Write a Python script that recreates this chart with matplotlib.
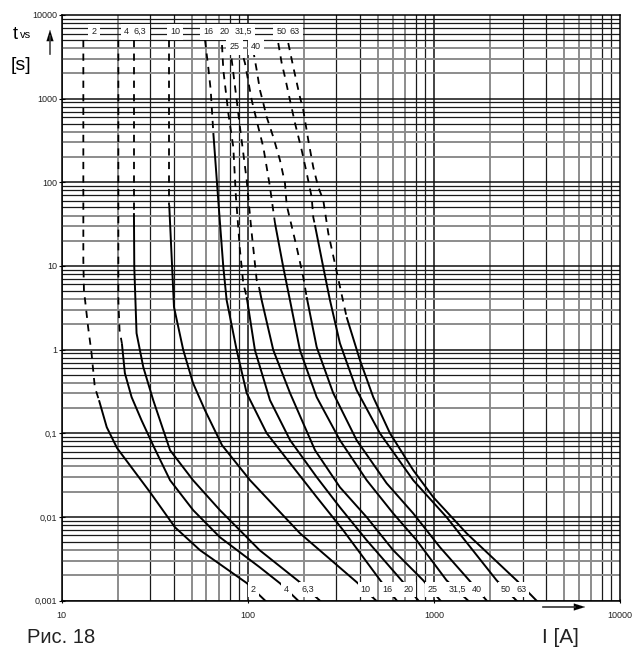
import numpy as np
import matplotlib.pyplot as plt

# шрифт похожий на Helvetica
plt.rcParams['font.family'] = ['Liberation Sans', 'DejaVu Sans']

# номинальные токи плавких вставок
ratings = ['2', '4', '6,3', '10', '16', '20', '25', '31,5', '40', '50', '63']

# точки характеристик: ток I [A] и время t [s]
i_2 = [13.1, 13.1, 13.2, 13.9, 14.5, 15.1, 15.9, 17.5, 19.9, 29.9, 40.7, 55.5, 99.1, 127]
t_2 = [5023, 11.7, 5.13, 1.85, 0.906, 0.355, 0.248, 0.118, 0.0662, 0.0197, 0.0075, 0.00399, 0.00161, 0.00095]

i_4 = [20.2, 20.2, 20.5, 21.1, 21.9, 23.8, 26.9, 31.4, 38.3, 51.0, 71.0, 116, 149, 191]
t_4 = [5023, 3.9, 1.71, 1.19, 0.522, 0.27, 0.143, 0.068, 0.0274, 0.012, 0.0057, 0.0025, 0.00161, 0.00095]

i_6_3 = [24.5, 24.5, 24.6, 25.3, 27.5, 31.1, 38.3, 50.9, 71.0, 116, 191, 250]
t_6_3 = [5023, 42.8, 9.67, 1.57, 0.616, 0.248, 0.0626, 0.0274, 0.012, 0.00399, 0.00165, 0.00095]

i_10 = [37.9, 37.9, 40.2, 45.1, 50.9, 59.0, 72.8, 103, 191, 386, 501]
t_10 = [5023, 53.4, 3.22, 0.984, 0.396, 0.188, 0.0719, 0.0274, 0.00636, 0.00165, 0.00095]

i_16 = [59.0, 61.4, 63.3, 65.4, 69.5, 74.0, 77.1, 87.3, 98.8, 126.5, 169, 235, 326, 525, 644]
t_16 = [5023, 2388, 1267, 388, 61.3, 9.67, 3.9, 0.984, 0.301, 0.1, 0.0438, 0.0172, 0.00691, 0.00165, 0.00095]

i_20 = [72.8, 74.0, 78.7, 83.7, 86.5, 90.9, 94.7, 98.8, 109.4, 131.8, 169, 235, 313, 436, 685, 842]
t_20 = [4376, 2198, 673, 264, 66.5, 15.5, 6.23, 4.24, 0.984, 0.248, 0.0825, 0.0298, 0.013, 0.00525, 0.00165, 0.00095]

i_25 = [81.3, 82.1, 87.3, 90.9, 94.7, 98.8, 100.7, 105.1, 111.8, 115.4, 118.9, 137.3, 169, 230, 313, 436, 605, 877, 1105]
t_25 = [4376, 2895, 962, 457, 224, 106, 66.5, 24.7, 6.76, 5.43, 3.9, 0.984, 0.301, 0.0626, 0.0226, 0.0099, 0.00399, 0.00174, 0.00095]

i_31_5 = [90.9, 96.7, 105.1, 114, 121.3, 126.5, 131.8, 140.2, 155.3, 168.7, 190.9, 234.8, 313, 436, 605, 808, 1171, 1563]
t_31_5 = [4376, 2666, 962, 457, 264, 152, 87.6, 32.5, 9.67, 3.9, 0.984, 0.27, 0.0825, 0.0274, 0.011, 0.00525, 0.00174, 0.00095]

i_40 = [107, 111.8, 116.4, 121.3, 126.5, 137.3, 149.1, 158.6, 162, 183.3, 198.9, 207.5, 234.8, 288.2, 384.9, 557.9, 775.2, 1079, 1500, 1960]
t_40 = [3813, 2198, 1267, 886, 603, 347, 184, 97.8, 53.4, 16.8, 7.35, 4.24, 1.07, 0.301, 0.0825, 0.0252, 0.011, 0.00433, 0.00189, 0.00095]

i_50 = [146, 152.3, 158.6, 168.7, 179.5, 195, 207.5, 220.7, 225, 229.8, 254.7, 276.7, 313, 385, 513, 775, 1171, 2175, 2840]
t_50 = [4625, 2666, 1813, 962, 511, 243, 129, 66.5, 38.4, 30.8, 9.67, 3.9, 1.19, 0.327, 0.1, 0.0274, 0.0099, 0.00174, 0.00095]

i_63 = [165.2, 175.8, 190.9, 198.9, 211.6, 225, 239.5, 254.7, 271, 329.1, 340.2, 401, 472.6, 581.1, 775.2, 992.7, 1500, 2784, 3637]
t_63 = [4625, 2388, 1045, 731, 320, 152, 87.6, 61.3, 24.7, 3.4, 2.44, 0.747, 0.27, 0.1, 0.0361, 0.0172, 0.00636, 0.00174, 0.00095]

# время, до которого кривая показана штрихом
t_dash_end = [0.248, 1.19, 42.8, 53.4, 388, 4.24, 5.43, 32.5, 4.24, 30.8, 2.44]

curves_i = [i_2, i_4, i_6_3, i_10, i_16, i_20, i_25, i_31_5, i_40, i_50, i_63]
curves_t = [t_2, t_4, t_6_3, t_10, t_16, t_20, t_25, t_31_5, t_40, t_50, t_63]

# подписи сверху (ток, ряд) и снизу (ток)
top_label_i = [15.0, 22.4, 26.4, 40.7, 61.4, 74.9, 84.7, 94.7, 110.8, 152.3, 179.5]
top_label_t = [6316, 6316, 6316, 6316, 6316, 6316, 4180, 6316, 4180, 6316, 6316]
bottom_label_i = [107.2, 162, 211.6, 430.3, 564.9, 728.7, 982.9, 1336, 1698, 2439, 2962]
bottom_label_t = 0.00136

fig = plt.figure(figsize=(6.36, 6.51), dpi=100)
ax = fig.add_axes([61.5 / 636, 1 - 600.5 / 651, 558.5 / 636, 585.5 / 651])
ax.set_xscale('log')
ax.set_yscale('log')
ax.set_xlim(10, 10000)
ax.set_ylim(0.001, 10000)

# сетка: часть линий чёрная, часть серая как в оригинале
for dec in [10, 100, 1000]:
    for m in range(1, 10):
        v = dec * m
        if m == 1:
            ax.axvline(v, color='#111111', lw=1.1, zorder=1)
        elif m in (2, 5, 6, 7):
            ax.axvline(v, color='#8c8c8c', lw=1.4, zorder=1)
        else:
            ax.axvline(v, color='#1a1a1a', lw=0.9, zorder=1)
for dec in [0.001, 0.01, 0.1, 1, 10, 100, 1000]:
    for m in range(1, 10):
        v = dec * m
        if m == 1:
            ax.axhline(v, color='#111111', lw=1.1, zorder=1)
        elif m in (2, 3, 4):
            ax.axhline(v, color='#8c8c8c', lw=1.4, zorder=1)
        else:
            ax.axhline(v, color='#1a1a1a', lw=0.9, zorder=1)

# характеристики плавких вставок
for cur, tim, t_end in zip(curves_i, curves_t, t_dash_end):
    cur = np.array(cur)
    tim = np.array(tim)
    k = np.argmin(np.abs(np.log10(tim) - np.log10(t_end)))
    ax.plot(cur[:k + 1], tim[:k + 1], color='black', lw=1.3, ls=(0, (4, 3.5)), zorder=3)
    ax.plot(cur[k:], tim[k:], color='black', lw=1.4, zorder=3, solid_capstyle='butt')

# подписи номиналов
for s, x, y in zip(ratings, top_label_i, top_label_t):
    ax.text(x, y, s, ha='center', va='center', fontsize=6.5, color='#222222',
            bbox=dict(facecolor='white', edgecolor='none', pad=2.5), zorder=5)
for s, x in zip(ratings, bottom_label_i):
    ax.text(x, bottom_label_t, s, ha='center', va='center', fontsize=6.5, color='#222222',
            bbox=dict(facecolor='white', edgecolor='none', pad=2.0), zorder=5)

ax.set_xticks([10, 100, 1000, 10000])
ax.set_xticklabels(['10', '100', '1000', '10000'])
ax.set_yticks([0.001, 0.01, 0.1, 1, 10, 100, 1000, 10000])
ax.set_yticklabels(['0,001', '0,01', '0,1', '1', '10', '100', '1000', '10000'])
ax.minorticks_off()
ax.tick_params(axis='x', length=3, width=0.8, direction='inout', pad=6, labelsize=6.5, labelcolor='#222222')
ax.tick_params(axis='y', length=4, width=0.8, direction='inout', pad=1, labelsize=6.5, labelcolor='#222222')
for sp in ax.spines.values():
    sp.set_linewidth(1.1)
    sp.set_zorder(6)

# обозначения осей
fig.text(13 / 636, 1 - 39 / 651, 't', fontsize=13, ha='left', va='baseline')
fig.text(19.5 / 636, 1 - 38 / 651, 'vs', fontsize=8, ha='left', va='baseline')
fig.text(11 / 636, 1 - 70 / 651, '[s]', fontsize=14, ha='left', va='baseline')
fig.add_artist(plt.Line2D([50 / 636, 50 / 636], [1 - 54 / 651, 1 - 36 / 651], color='#444444', lw=1.2))
ax.annotate('', xy=(50 / 636, 1 - 27 / 651), xytext=(50 / 636, 1 - 40 / 651), xycoords='figure fraction',
            arrowprops=dict(arrowstyle='-|>,head_width=0.25,head_length=0.8', color='black', lw=0.1))
fig.add_artist(plt.Line2D([543 / 636, 575 / 636], [1 - 607 / 651, 1 - 607 / 651], color='#333333', lw=1.2))
ax.annotate('', xy=(588 / 636, 1 - 607 / 651), xytext=(574 / 636, 1 - 607 / 651), xycoords='figure fraction',
            arrowprops=dict(arrowstyle='-|>,head_width=0.25,head_length=0.8', color='black', lw=0.1))
fig.text(542 / 636, 1 - 643 / 651, 'I [A]', fontsize=15, ha='left', va='baseline', color='#222222')
fig.text(27 / 636, 1 - 643 / 651, 'Рис. 18', fontsize=14.5, ha='left', va='baseline', color='#222222')

fig.savefig('out.png', dpi=100)
